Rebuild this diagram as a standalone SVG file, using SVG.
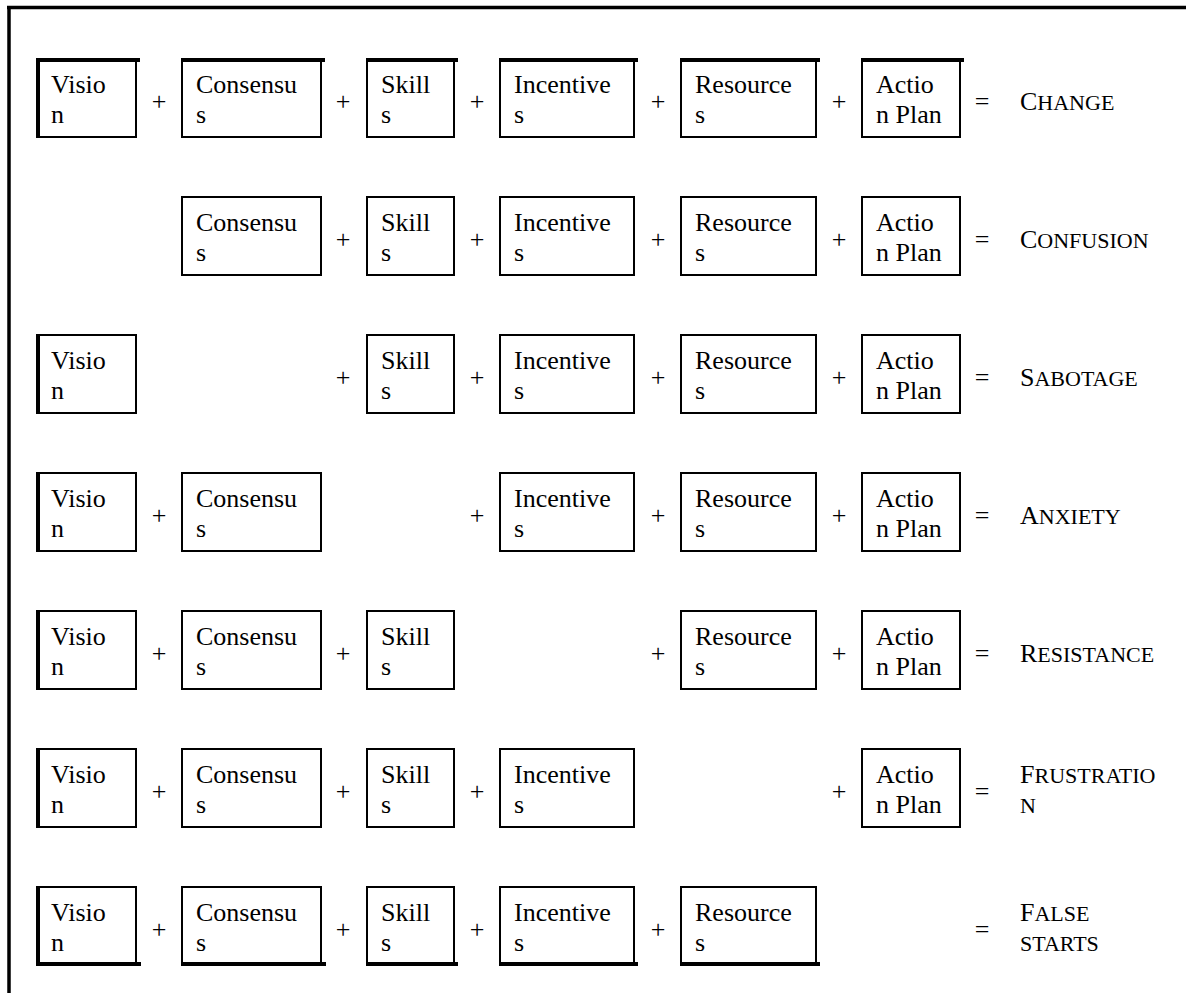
<svg xmlns="http://www.w3.org/2000/svg" width="1186" height="993" viewBox="0 0 1186 993">
<rect width="1186" height="993" fill="#fff"/>
<g id="frame" stroke="#000" stroke-width="3.5">
<line x1="7" y1="7.5" x2="1186" y2="7.5"/>
<line x1="9" y1="6" x2="9" y2="993"/>
</g>

<g id="r1-vision"><rect fill="#fff" stroke="#000" stroke-width="2" x="37" y="59" width="99" height="78"/><line stroke="#000" stroke-width="4" x1="38" y1="58" x2="38" y2="138"/><text x="51" y="93" font-family="Liberation Serif" font-size="26">Visio</text><text x="51" y="123" font-family="Liberation Serif" font-size="26">n</text></g>
<g id="r1-consensus"><rect fill="#fff" stroke="#000" stroke-width="2" x="182" y="59" width="139" height="78"/><text x="196" y="93" font-family="Liberation Serif" font-size="26">Consensu</text><text x="196" y="123" font-family="Liberation Serif" font-size="26">s</text></g>
<g id="r1-skills"><rect fill="#fff" stroke="#000" stroke-width="2" x="367" y="59" width="87" height="78"/><text x="381" y="93" font-family="Liberation Serif" font-size="26">Skill</text><text x="381" y="123" font-family="Liberation Serif" font-size="26">s</text></g>
<g id="r1-incentives"><rect fill="#fff" stroke="#000" stroke-width="2" x="500" y="59" width="134" height="78"/><text x="514" y="93" font-family="Liberation Serif" font-size="26">Incentive</text><text x="514" y="123" font-family="Liberation Serif" font-size="26">s</text></g>
<g id="r1-resources"><rect fill="#fff" stroke="#000" stroke-width="2" x="681" y="59" width="135" height="78"/><text x="695" y="93" font-family="Liberation Serif" font-size="26">Resource</text><text x="695" y="123" font-family="Liberation Serif" font-size="26">s</text></g>
<g id="r1-action"><rect fill="#fff" stroke="#000" stroke-width="2" x="862" y="59" width="98" height="78"/><text x="876" y="93" font-family="Liberation Serif" font-size="26">Actio</text><text x="876" y="123" font-family="Liberation Serif" font-size="26">n Plan</text></g>
<g id="r1-topline" stroke="#000" stroke-width="4">
<line x1="36" y1="60" x2="140" y2="60"/>
<line x1="181" y1="60" x2="325" y2="60"/>
<line x1="366" y1="60" x2="458" y2="60"/>
<line x1="499" y1="60" x2="638" y2="60"/>
<line x1="680" y1="60" x2="820" y2="60"/>
<line x1="861" y1="60" x2="964" y2="60"/>
</g>
<g id="r1-ops" text-anchor="middle">
<text x="159" y="110" font-family="Liberation Serif" font-size="26">+</text><text x="343" y="110" font-family="Liberation Serif" font-size="26">+</text><text x="477" y="110" font-family="Liberation Serif" font-size="26">+</text><text x="658" y="110" font-family="Liberation Serif" font-size="26">+</text><text x="839" y="110" font-family="Liberation Serif" font-size="26">+</text><text x="982" y="110" font-family="Liberation Serif" font-size="26">=</text>
</g>
<g id="r1-result"><text x="1020" y="110" font-family="Liberation Serif" font-size="26">C<tspan font-size="22">HANGE</tspan></text></g>

<g id="r2-consensus"><rect fill="#fff" stroke="#000" stroke-width="2" x="182" y="197" width="139" height="78"/><text x="196" y="231" font-family="Liberation Serif" font-size="26">Consensu</text><text x="196" y="261" font-family="Liberation Serif" font-size="26">s</text></g>
<g id="r2-skills"><rect fill="#fff" stroke="#000" stroke-width="2" x="367" y="197" width="87" height="78"/><text x="381" y="231" font-family="Liberation Serif" font-size="26">Skill</text><text x="381" y="261" font-family="Liberation Serif" font-size="26">s</text></g>
<g id="r2-incentives"><rect fill="#fff" stroke="#000" stroke-width="2" x="500" y="197" width="134" height="78"/><text x="514" y="231" font-family="Liberation Serif" font-size="26">Incentive</text><text x="514" y="261" font-family="Liberation Serif" font-size="26">s</text></g>
<g id="r2-resources"><rect fill="#fff" stroke="#000" stroke-width="2" x="681" y="197" width="135" height="78"/><text x="695" y="231" font-family="Liberation Serif" font-size="26">Resource</text><text x="695" y="261" font-family="Liberation Serif" font-size="26">s</text></g>
<g id="r2-action"><rect fill="#fff" stroke="#000" stroke-width="2" x="862" y="197" width="98" height="78"/><text x="876" y="231" font-family="Liberation Serif" font-size="26">Actio</text><text x="876" y="261" font-family="Liberation Serif" font-size="26">n Plan</text></g>
<g id="r2-ops" text-anchor="middle">
<text x="343" y="248" font-family="Liberation Serif" font-size="26">+</text><text x="477" y="248" font-family="Liberation Serif" font-size="26">+</text><text x="658" y="248" font-family="Liberation Serif" font-size="26">+</text><text x="839" y="248" font-family="Liberation Serif" font-size="26">+</text><text x="982" y="248" font-family="Liberation Serif" font-size="26">=</text>
</g>
<g id="r2-result"><text x="1020" y="248" font-family="Liberation Serif" font-size="26">C<tspan font-size="22">ONFUSION</tspan></text></g>

<g id="r3-vision"><rect fill="#fff" stroke="#000" stroke-width="2" x="37" y="335" width="99" height="78"/><line stroke="#000" stroke-width="4" x1="38" y1="334" x2="38" y2="414"/><text x="51" y="369" font-family="Liberation Serif" font-size="26">Visio</text><text x="51" y="399" font-family="Liberation Serif" font-size="26">n</text></g>
<g id="r3-skills"><rect fill="#fff" stroke="#000" stroke-width="2" x="367" y="335" width="87" height="78"/><text x="381" y="369" font-family="Liberation Serif" font-size="26">Skill</text><text x="381" y="399" font-family="Liberation Serif" font-size="26">s</text></g>
<g id="r3-incentives"><rect fill="#fff" stroke="#000" stroke-width="2" x="500" y="335" width="134" height="78"/><text x="514" y="369" font-family="Liberation Serif" font-size="26">Incentive</text><text x="514" y="399" font-family="Liberation Serif" font-size="26">s</text></g>
<g id="r3-resources"><rect fill="#fff" stroke="#000" stroke-width="2" x="681" y="335" width="135" height="78"/><text x="695" y="369" font-family="Liberation Serif" font-size="26">Resource</text><text x="695" y="399" font-family="Liberation Serif" font-size="26">s</text></g>
<g id="r3-action"><rect fill="#fff" stroke="#000" stroke-width="2" x="862" y="335" width="98" height="78"/><text x="876" y="369" font-family="Liberation Serif" font-size="26">Actio</text><text x="876" y="399" font-family="Liberation Serif" font-size="26">n Plan</text></g>
<g id="r3-ops" text-anchor="middle">
<text x="343" y="386" font-family="Liberation Serif" font-size="26">+</text><text x="477" y="386" font-family="Liberation Serif" font-size="26">+</text><text x="658" y="386" font-family="Liberation Serif" font-size="26">+</text><text x="839" y="386" font-family="Liberation Serif" font-size="26">+</text><text x="982" y="386" font-family="Liberation Serif" font-size="26">=</text>
</g>
<g id="r3-result"><text x="1020" y="386" font-family="Liberation Serif" font-size="26">S<tspan font-size="22">ABOTAGE</tspan></text></g>

<g id="r4-vision"><rect fill="#fff" stroke="#000" stroke-width="2" x="37" y="473" width="99" height="78"/><line stroke="#000" stroke-width="4" x1="38" y1="472" x2="38" y2="552"/><text x="51" y="507" font-family="Liberation Serif" font-size="26">Visio</text><text x="51" y="537" font-family="Liberation Serif" font-size="26">n</text></g>
<g id="r4-consensus"><rect fill="#fff" stroke="#000" stroke-width="2" x="182" y="473" width="139" height="78"/><text x="196" y="507" font-family="Liberation Serif" font-size="26">Consensu</text><text x="196" y="537" font-family="Liberation Serif" font-size="26">s</text></g>
<g id="r4-incentives"><rect fill="#fff" stroke="#000" stroke-width="2" x="500" y="473" width="134" height="78"/><text x="514" y="507" font-family="Liberation Serif" font-size="26">Incentive</text><text x="514" y="537" font-family="Liberation Serif" font-size="26">s</text></g>
<g id="r4-resources"><rect fill="#fff" stroke="#000" stroke-width="2" x="681" y="473" width="135" height="78"/><text x="695" y="507" font-family="Liberation Serif" font-size="26">Resource</text><text x="695" y="537" font-family="Liberation Serif" font-size="26">s</text></g>
<g id="r4-action"><rect fill="#fff" stroke="#000" stroke-width="2" x="862" y="473" width="98" height="78"/><text x="876" y="507" font-family="Liberation Serif" font-size="26">Actio</text><text x="876" y="537" font-family="Liberation Serif" font-size="26">n Plan</text></g>
<g id="r4-ops" text-anchor="middle">
<text x="159" y="524" font-family="Liberation Serif" font-size="26">+</text><text x="477" y="524" font-family="Liberation Serif" font-size="26">+</text><text x="658" y="524" font-family="Liberation Serif" font-size="26">+</text><text x="839" y="524" font-family="Liberation Serif" font-size="26">+</text><text x="982" y="524" font-family="Liberation Serif" font-size="26">=</text>
</g>
<g id="r4-result"><text x="1020" y="524" font-family="Liberation Serif" font-size="26">A<tspan font-size="22">NXIETY</tspan></text></g>

<g id="r5-vision"><rect fill="#fff" stroke="#000" stroke-width="2" x="37" y="611" width="99" height="78"/><line stroke="#000" stroke-width="4" x1="38" y1="610" x2="38" y2="690"/><text x="51" y="645" font-family="Liberation Serif" font-size="26">Visio</text><text x="51" y="675" font-family="Liberation Serif" font-size="26">n</text></g>
<g id="r5-consensus"><rect fill="#fff" stroke="#000" stroke-width="2" x="182" y="611" width="139" height="78"/><text x="196" y="645" font-family="Liberation Serif" font-size="26">Consensu</text><text x="196" y="675" font-family="Liberation Serif" font-size="26">s</text></g>
<g id="r5-skills"><rect fill="#fff" stroke="#000" stroke-width="2" x="367" y="611" width="87" height="78"/><text x="381" y="645" font-family="Liberation Serif" font-size="26">Skill</text><text x="381" y="675" font-family="Liberation Serif" font-size="26">s</text></g>
<g id="r5-resources"><rect fill="#fff" stroke="#000" stroke-width="2" x="681" y="611" width="135" height="78"/><text x="695" y="645" font-family="Liberation Serif" font-size="26">Resource</text><text x="695" y="675" font-family="Liberation Serif" font-size="26">s</text></g>
<g id="r5-action"><rect fill="#fff" stroke="#000" stroke-width="2" x="862" y="611" width="98" height="78"/><text x="876" y="645" font-family="Liberation Serif" font-size="26">Actio</text><text x="876" y="675" font-family="Liberation Serif" font-size="26">n Plan</text></g>
<g id="r5-ops" text-anchor="middle">
<text x="159" y="662" font-family="Liberation Serif" font-size="26">+</text><text x="343" y="662" font-family="Liberation Serif" font-size="26">+</text><text x="658" y="662" font-family="Liberation Serif" font-size="26">+</text><text x="839" y="662" font-family="Liberation Serif" font-size="26">+</text><text x="982" y="662" font-family="Liberation Serif" font-size="26">=</text>
</g>
<g id="r5-result"><text x="1020" y="662" font-family="Liberation Serif" font-size="26">R<tspan font-size="22">ESISTANCE</tspan></text></g>

<g id="r6-vision"><rect fill="#fff" stroke="#000" stroke-width="2" x="37" y="749" width="99" height="78"/><line stroke="#000" stroke-width="4" x1="38" y1="748" x2="38" y2="828"/><text x="51" y="783" font-family="Liberation Serif" font-size="26">Visio</text><text x="51" y="813" font-family="Liberation Serif" font-size="26">n</text></g>
<g id="r6-consensus"><rect fill="#fff" stroke="#000" stroke-width="2" x="182" y="749" width="139" height="78"/><text x="196" y="783" font-family="Liberation Serif" font-size="26">Consensu</text><text x="196" y="813" font-family="Liberation Serif" font-size="26">s</text></g>
<g id="r6-skills"><rect fill="#fff" stroke="#000" stroke-width="2" x="367" y="749" width="87" height="78"/><text x="381" y="783" font-family="Liberation Serif" font-size="26">Skill</text><text x="381" y="813" font-family="Liberation Serif" font-size="26">s</text></g>
<g id="r6-incentives"><rect fill="#fff" stroke="#000" stroke-width="2" x="500" y="749" width="134" height="78"/><text x="514" y="783" font-family="Liberation Serif" font-size="26">Incentive</text><text x="514" y="813" font-family="Liberation Serif" font-size="26">s</text></g>
<g id="r6-action"><rect fill="#fff" stroke="#000" stroke-width="2" x="862" y="749" width="98" height="78"/><text x="876" y="783" font-family="Liberation Serif" font-size="26">Actio</text><text x="876" y="813" font-family="Liberation Serif" font-size="26">n Plan</text></g>
<g id="r6-ops" text-anchor="middle">
<text x="159" y="800" font-family="Liberation Serif" font-size="26">+</text><text x="343" y="800" font-family="Liberation Serif" font-size="26">+</text><text x="477" y="800" font-family="Liberation Serif" font-size="26">+</text><text x="839" y="800" font-family="Liberation Serif" font-size="26">+</text><text x="982" y="800" font-family="Liberation Serif" font-size="26">=</text>
</g>
<g id="r6-result"><text x="1020" y="783" font-family="Liberation Serif" font-size="26">F<tspan font-size="22">RUSTRATIO</tspan></text><text x="1020" y="813" font-family="Liberation Serif" font-size="22">N</text></g>

<g id="r7-vision"><rect fill="#fff" stroke="#000" stroke-width="2" x="37" y="887" width="99" height="78"/><line stroke="#000" stroke-width="4" x1="38" y1="886" x2="38" y2="966"/><text x="51" y="921" font-family="Liberation Serif" font-size="26">Visio</text><text x="51" y="951" font-family="Liberation Serif" font-size="26">n</text></g>
<g id="r7-consensus"><rect fill="#fff" stroke="#000" stroke-width="2" x="182" y="887" width="139" height="78"/><text x="196" y="921" font-family="Liberation Serif" font-size="26">Consensu</text><text x="196" y="951" font-family="Liberation Serif" font-size="26">s</text></g>
<g id="r7-skills"><rect fill="#fff" stroke="#000" stroke-width="2" x="367" y="887" width="87" height="78"/><text x="381" y="921" font-family="Liberation Serif" font-size="26">Skill</text><text x="381" y="951" font-family="Liberation Serif" font-size="26">s</text></g>
<g id="r7-incentives"><rect fill="#fff" stroke="#000" stroke-width="2" x="500" y="887" width="134" height="78"/><text x="514" y="921" font-family="Liberation Serif" font-size="26">Incentive</text><text x="514" y="951" font-family="Liberation Serif" font-size="26">s</text></g>
<g id="r7-resources"><rect fill="#fff" stroke="#000" stroke-width="2" x="681" y="887" width="135" height="78"/><text x="695" y="921" font-family="Liberation Serif" font-size="26">Resource</text><text x="695" y="951" font-family="Liberation Serif" font-size="26">s</text></g>
<g id="r7-bottomline" stroke="#000" stroke-width="4">
<line x1="36" y1="964" x2="141" y2="964"/>
<line x1="181" y1="964" x2="326" y2="964"/>
<line x1="366" y1="964" x2="458" y2="964"/>
<line x1="499" y1="964" x2="638" y2="964"/>
<line x1="680" y1="964" x2="820" y2="964"/>
</g>
<g id="r7-ops" text-anchor="middle">
<text x="159" y="938" font-family="Liberation Serif" font-size="26">+</text><text x="343" y="938" font-family="Liberation Serif" font-size="26">+</text><text x="477" y="938" font-family="Liberation Serif" font-size="26">+</text><text x="658" y="938" font-family="Liberation Serif" font-size="26">+</text><text x="982" y="938" font-family="Liberation Serif" font-size="26">=</text>
</g>
<g id="r7-result"><text x="1020" y="921" font-family="Liberation Serif" font-size="26">F<tspan font-size="22">ALSE</tspan></text><text x="1020" y="951" font-family="Liberation Serif" font-size="22">STARTS</text></g>
</svg>
